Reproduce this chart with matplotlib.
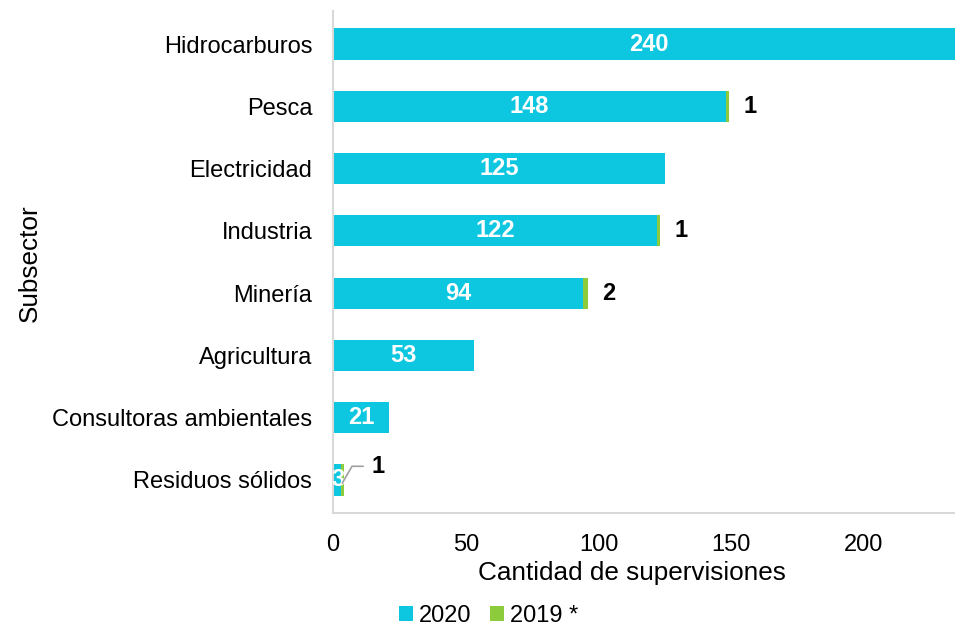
import matplotlib
matplotlib.use("Agg")
import matplotlib.pyplot as plt
import numpy as np

plt.rcParams['font.family'] = ['Liberation Sans', 'DejaVu Sans']

categories = ["Hidrocarburos", "Pesca", "Electricidad", "Industria", "Minería",
              "Agricultura", "Consultoras ambientales", "Residuos sólidos"]
values_2020 = [240, 148, 125, 122, 94, 53, 21, 3]
values_2019 = [0, 1, 0, 1, 2, 0, 0, 1]
series_names = ["2020", "2019 *"]
xticks = [0, 50, 100, 150, 200]

c2020 = "#0DC6E0"
c2019 = "#8CCB3C"

fig = plt.figure(figsize=(9.55, 6.27), dpi=100)
ax = fig.add_axes([0.3487, 1 - 513 / 627, 1 - 0.3487, (513 - 11) / 627])

y = np.arange(len(categories))
h = 0.5
ax.barh(y, values_2020, height=h, color=c2020, label=series_names[0])
ax.barh(y, values_2019, height=h, left=values_2020, color=c2019, label=series_names[1])

fs_lbl = 17
for i, (a, b) in enumerate(zip(values_2020, values_2019)):
    if a >= 10:
        ax.text(a / 2 if a < 234 else 119, i, str(a), ha="center", va="center",
                color="white", fontsize=fs_lbl, fontweight="bold")
    else:
        ax.text(a / 2 + 0.3, i, str(a), ha="center", va="center",
                color="white", fontsize=fs_lbl, fontweight="bold")
    if b > 0:
        if a >= 10:
            ax.text(a + b + 5.5, i, str(b), ha="left", va="center",
                    color="black", fontsize=fs_lbl, fontweight="bold")
        else:
            ax.annotate(str(b), xy=(a + b / 2, i + 0.05), xytext=(14.5, i - 0.22),
                        ha="left", va="center", color="black", fontsize=fs_lbl,
                        fontweight="bold",
                        arrowprops=dict(arrowstyle="-", color="#A0A0A0", lw=1.2,
                                        shrinkA=4, shrinkB=0,
                                        connectionstyle="angle,angleA=0,angleB=60,rad=0"))

ax.set_xlim(0, 234.3)
ax.set_ylim(len(categories) - 0.47, -0.53)
ax.set_yticks(y)
ax.set_yticklabels(categories, fontsize=17)
ax.set_xticks(xticks)
ax.set_xticklabels([str(t) for t in xticks], fontsize=17)
ax.tick_params(axis="both", length=0)
ax.tick_params(axis="x", pad=15)
ax.tick_params(axis="y", pad=15)
ax.set_xlabel("Cantidad de supervisiones", fontsize=18.8)
ax.xaxis.set_label_coords((632 - 333) / 622, (513 - 580) / 502)
ax.xaxis.label.set_va("baseline")
ax.set_ylabel("Subsector", fontsize=18.8)
ax.yaxis.set_label_coords((30 - 333) / 622, (513 - 263) / 502)
ax.yaxis.label.set_va("center")

for s in ["top", "right"]:
    ax.spines[s].set_visible(False)
for s in ["left", "bottom"]:
    ax.spines[s].set_color("#D9D9D9")
    ax.spines[s].set_linewidth(1.5)

leg = fig.legend(loc="center", bbox_to_anchor=(488.5 / 955, 1 - 615.5 / 627), ncol=2,
                 frameon=False, fontsize=17, handlelength=0.6, handleheight=0.6,
                 handletextpad=0.25, columnspacing=0.8, borderpad=0.2)

fig.savefig("out.png", dpi=100)
